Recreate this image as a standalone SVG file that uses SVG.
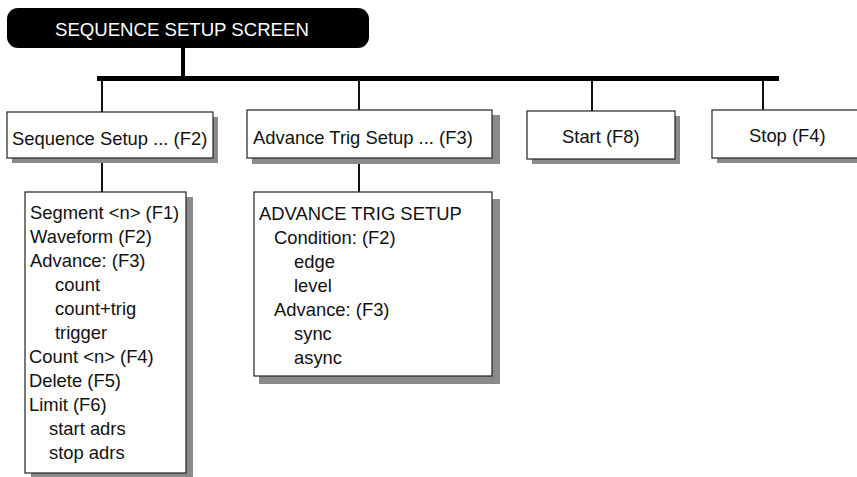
<svg xmlns="http://www.w3.org/2000/svg" width="857" height="477" viewBox="0 0 857 477">
<style>
  text { font-family: "Liberation Sans", Arial, sans-serif; font-size: 18.4px; fill: #111; }
  .title { fill: #fff; font-size: 18.6px; }
  .box { fill: #fff; stroke: #222; stroke-width: 1.2; }
  .shadow { fill: #8a8a8a; }
  .wire { stroke: #111; stroke-width: 2; fill: none; }
</style>
<rect width="857" height="477" fill="#fff"/>
<g id="connectors">
  <rect x="181" y="46" width="4" height="33" fill="#000"/>
  <rect x="97" y="76" width="682" height="5" fill="#000"/>
  <line class="wire" x1="102" y1="80" x2="102" y2="112"/>
  <line class="wire" x1="359" y1="80" x2="359" y2="110"/>
  <line class="wire" x1="592" y1="80" x2="592" y2="111"/>
  <line class="wire" x1="763" y1="80" x2="763" y2="110"/>
  <line class="wire" x1="102" y1="158" x2="102" y2="192"/>
  <line class="wire" x1="359" y1="158" x2="359" y2="192"/>
</g>
<g id="title">
  <rect x="7" y="8" width="362" height="40" rx="11" fill="#000"/>
  <text class="title" x="55" y="36">SEQUENCE SETUP SCREEN</text>
</g>
<g id="seq-setup">
  <rect class="shadow" x="12" y="117" width="206" height="46"/>
  <rect class="box" x="7" y="112" width="206" height="46"/>
  <text x="12" y="145">Sequence Setup ... (F2)</text>
</g>
<g id="adv-trig">
  <rect class="shadow" x="252" y="115" width="248" height="49"/>
  <rect class="box" x="247" y="110" width="245" height="48"/>
  <text x="253" y="144">Advance Trig Setup ... (F3)</text>
</g>
<g id="start">
  <rect class="shadow" x="532" y="116" width="148" height="48"/>
  <rect class="box" x="527" y="111" width="148" height="48"/>
  <text x="562" y="143">Start (F8)</text>
</g>
<g id="stop">
  <rect class="shadow" x="717" y="115" width="160" height="48"/>
  <rect class="box" x="712" y="110" width="160" height="48"/>
  <text x="749" y="142">Stop (F4)</text>
</g>
<g id="seq-list">
  <rect class="shadow" x="31" y="197" width="162" height="280"/>
  <rect class="box" x="25" y="192" width="161" height="281"/>
  <text x="30" y="219">Segment &lt;n&gt; (F1)</text>
  <text x="30" y="243">Waveform (F2)</text>
  <text x="30" y="267">Advance: (F3)</text>
  <text x="55" y="291">count</text>
  <text x="55" y="315">count+trig</text>
  <text x="55" y="339">trigger</text>
  <text x="29" y="363">Count &lt;n&gt; (F4)</text>
  <text x="29" y="387">Delete (F5)</text>
  <text x="29" y="411">Limit (F6)</text>
  <text x="49" y="435">start adrs</text>
  <text x="49" y="459">stop adrs</text>
</g>
<g id="adv-list">
  <rect class="shadow" x="259" y="199" width="241" height="185"/>
  <rect class="box" x="254" y="192" width="238" height="184"/>
  <text x="259" y="220">ADVANCE TRIG SETUP</text>
  <text x="274" y="244">Condition: (F2)</text>
  <text x="294" y="268">edge</text>
  <text x="294" y="292">level</text>
  <text x="274" y="316">Advance: (F3)</text>
  <text x="294" y="340">sync</text>
  <text x="294" y="364">async</text>
</g>
</svg>
